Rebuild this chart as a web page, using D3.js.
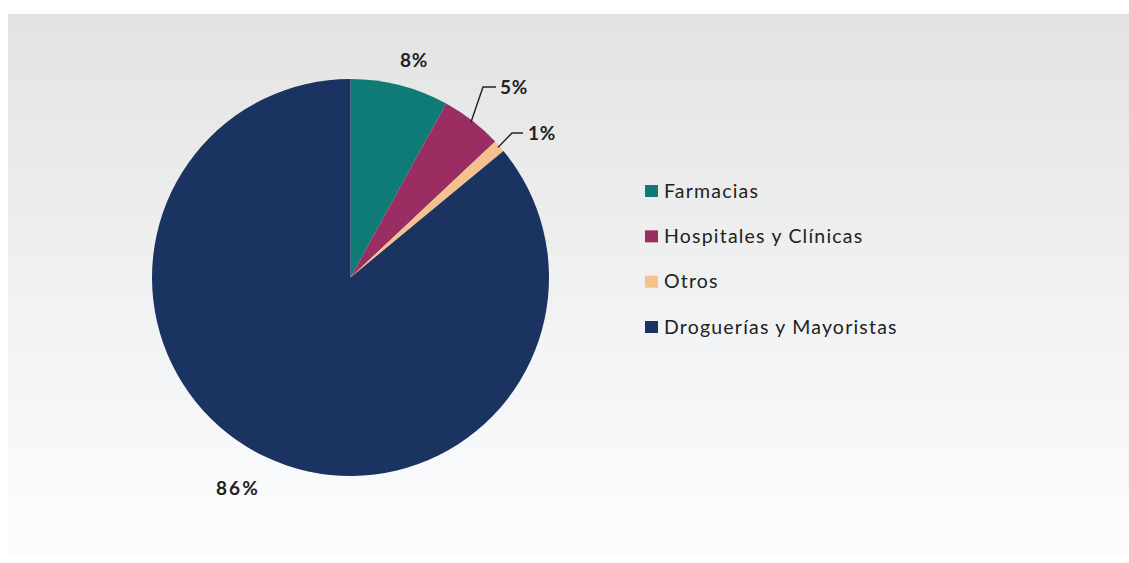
<!DOCTYPE html>
<html>
<head>
<meta charset="utf-8">
<script src="https://cdn.jsdelivr.net/npm/d3@7"></script>
<style>
  html, body { margin: 0; padding: 0; background: #ffffff; }
  svg { display: block; }
</style>
</head>
<body>
<svg id="chart" width="1129" height="563"></svg>
<script>
// Distribution of sales by channel
const categories = ["Farmacias", "Hospitales y Clínicas", "Otros", "Droguerías y Mayoristas"];
const values = [8, 5, 1, 86];
const valueLabels = ["8%", "5%", "1%", "86%"];
const colors = ["#0f7b77", "#9a2d62", "#f5c28e", "#1a3360"];

const svg = d3.select("#chart");
const W = 1129, H = 563;

// Panel background with soft vertical gradient
const defs = svg.append("defs");
const grad = defs.append("linearGradient")
  .attr("id", "bg").attr("x1", 0).attr("y1", 0).attr("x2", 0).attr("y2", 1);
grad.append("stop").attr("offset", "0%").attr("stop-color", "#e3e3e3");
grad.append("stop").attr("offset", "55%").attr("stop-color", "#f1f2f3");
grad.append("stop").attr("offset", "100%").attr("stop-color", "#fbfdff");
svg.append("rect").attr("x", 8).attr("y", 14).attr("width", W - 8).attr("height", H - 20)
  .attr("fill", "url(#bg)");

// Pie
const cx = 350.5, cy = 277.5, r = 198.5;
const pie = d3.pie().sort(null).value(d => d.value);
const arcs = pie(categories.map((c, i) => ({ cat: c, value: values[i], label: valueLabels[i], color: colors[i] })));
const arc = d3.arc().innerRadius(0).outerRadius(r);

const g = svg.append("g").attr("transform", `translate(${cx},${cy})`);
g.selectAll("path.slice").data(arcs).enter().append("path")
  .attr("class", "slice")
  .attr("d", arc)
  .attr("fill", d => d.data.color);

// Value labels; small slices get an elbow leader line
const labelFont = "'Lato', 'DejaVu Sans', sans-serif";
const labelSpec = [
  { leader: false, pos: [414, 60], spacing: 0.8 },
  { leader: true, bend: [483, 87], end: [496, 87], tx: 500 },
  { leader: true, bend: [512, 133], end: [523, 133], tx: 528 },
  { leader: false, pos: [238, 488], spacing: 2.2 }
];

arcs.forEach((a, i) => {
  const s = labelSpec[i];
  const mid = (a.startAngle + a.endAngle) / 2;
  if (s.leader) {
    const sx = Math.sin(mid) * (r - 2), sy = -Math.cos(mid) * (r - 2);
    const bend = [s.bend[0] - cx, s.bend[1] - cy], end = [s.end[0] - cx, s.end[1] - cy];
    g.append("path")
      .attr("d", d3.line()([[sx, sy], bend, end]))
      .attr("fill", "none").attr("stroke", "#222").attr("stroke-width", 1.4);
    g.append("text")
      .attr("x", s.tx - cx).attr("y", end[1]).attr("dy", "0.35em")
      .attr("text-anchor", "start")
      .attr("font-family", labelFont).attr("font-weight", 700).attr("font-size", 19)
      .attr("letter-spacing", 0.8)
      .attr("fill", "#222").text(a.data.label);
  } else {
    g.append("text")
      .attr("x", s.pos[0] - cx).attr("y", s.pos[1] - cy).attr("dy", "0.35em")
      .attr("text-anchor", "middle")
      .attr("font-family", labelFont).attr("font-weight", 700).attr("font-size", 19)
      .attr("letter-spacing", s.spacing)
      .attr("fill", "#222").text(a.data.label);
  }
});

// Legend
const legendY = d3.scalePoint().domain(categories).range([191, 327]);
const legend = svg.append("g");
const items = legend.selectAll("g.item").data(categories).enter().append("g")
  .attr("class", "item")
  .attr("transform", d => `translate(645,${legendY(d)})`);
items.append("rect").attr("x", 0).attr("y", -6).attr("width", 13).attr("height", 12)
  .attr("fill", (d, i) => colors[i]);
items.append("text").attr("x", 19).attr("y", 0).attr("dy", "0.35em")
  .attr("font-family", labelFont).attr("font-size", 19.5).attr("letter-spacing", 1.2)
  .attr("fill", "#222")
  .text(d => d);
</script>
</body>
</html>
